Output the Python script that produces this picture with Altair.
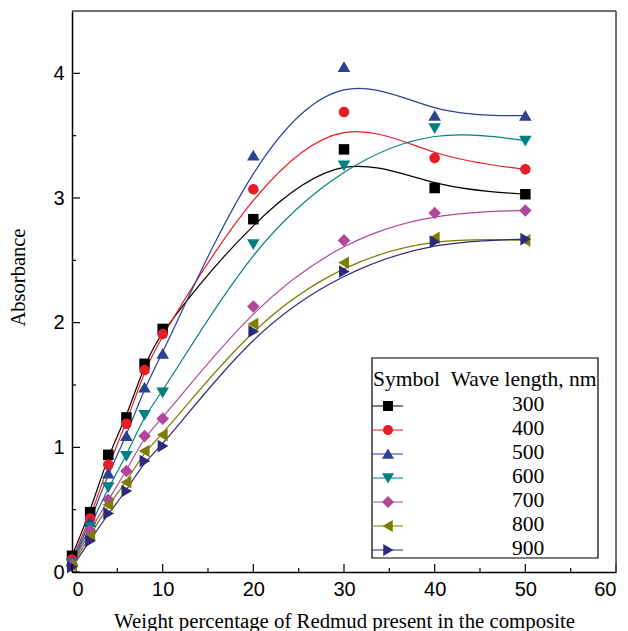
import altair as alt
import pandas as pd

# ---- data ----
x_vals = [0, 2, 4, 6, 8, 10, 20, 30, 40, 50]
wavelengths = ["300", "400", "500", "600", "700", "800", "900"]
abs_300 = [0.13, 0.48, 0.94, 1.24, 1.67, 1.95, 2.83, 3.39, 3.08, 3.03]
abs_400 = [0.10, 0.43, 0.86, 1.19, 1.62, 1.91, 3.07, 3.69, 3.32, 3.23]
abs_500 = [0.08, 0.40, 0.79, 1.09, 1.48, 1.75, 3.34, 4.05, 3.66, 3.66]
abs_600 = [0.07, 0.36, 0.68, 0.93, 1.26, 1.44, 2.63, 3.26, 3.56, 3.46]
abs_700 = [0.06, 0.33, 0.58, 0.81, 1.09, 1.23, 2.13, 2.66, 2.88, 2.90]
abs_800 = [0.05, 0.29, 0.54, 0.72, 0.97, 1.10, 1.99, 2.48, 2.68, 2.66]
abs_900 = [0.04, 0.25, 0.47, 0.65, 0.89, 1.01, 1.93, 2.41, 2.65, 2.67]
series = [abs_300, abs_400, abs_500, abs_600, abs_700, abs_800, abs_900]

x_major = [0, 10, 20, 30, 40, 50, 60]
x_minor = [5, 15, 25, 35, 45, 55]
y_major = [0, 1, 2, 3, 4]
y_minor = [0.5, 1.5, 2.5, 3.5]

legend_title = "Symbol\u00a0\u00a0Wave length, nm"
x_title = "Weight percentage of Redmud present in the composite"
y_title = "Absorbance"

colors = ["#000000", "#E41E26", "#2A4194", "#00807E", "#B0479A", "#7E7D00", "#2D2A7A"]
# marker outlines (unit coordinates)
shapes = [
    "M-1,-1H1V1H-1Z",
    "M-1,0A1,1 0 1,1 1,0A1,1 0 1,1 -1,0Z",
    "M0,-1.1L1.2,0.95H-1.2Z",
    "M-1.2,-0.95H1.2L0,1.1Z",
    "M0,-1.2L1.2,0L0,1.2L-1.2,0Z",
    "M-1.1,0L0.95,-1.2V1.2Z",
    "M-0.95,-1.2L1.1,0L-0.95,1.2Z",
]

rows = []
for wl, vals in zip(wavelengths, series):
    for xv, yv in zip(x_vals, vals):
        rows.append({"x": xv, "y": yv, "wl": wl})
df = pd.DataFrame(rows)
leg_df = pd.DataFrame({"wl": wavelengths})
one = pd.DataFrame({"a": [0]})

W, H = 544, 561
SERIF = "Liberation Serif"
SANS = "Liberation Sans"

xscale = alt.Scale(domain=[0, 60], nice=False)
yscale = alt.Scale(domain=[0, 4.5], nice=False)
color_scale = alt.Scale(domain=wavelengths, range=colors)
shape_scale = alt.Scale(domain=wavelengths, range=shapes)
leg_y = alt.Y("wl:N", scale=alt.Scale(type="point", domain=wavelengths,
                                      range=[395, 539], padding=0), axis=None)

x_axis = alt.Axis(values=x_major, format="d", ticks=False, grid=False,
                  domainColor="black", domainWidth=1.5, labelFont=SANS,
                  labelFontSize=20, labelColor="black", labelPadding=7,
                  title=x_title, titleFont=SERIF, titleFontSize=20.8,
                  titleFontWeight="normal", titleColor="black", titlePadding=12)

lines = alt.Chart(df).mark_line(interpolate="basis", strokeWidth=1.2).encode(
    x=alt.X("x:Q", scale=xscale, axis=x_axis),
    y=alt.Y("y:Q", scale=yscale,
            axis=alt.Axis(values=y_major, format="d", ticks=False, grid=False,
                          domainColor="black", domainWidth=1.5, labelFont=SANS,
                          labelFontSize=20, labelColor="black", labelPadding=8,
                          title=y_title, titleFont=SERIF, titleFontSize=20.5,
                          titleFontWeight="normal", titleColor="black",
                          titleX=-54, titleY=266, titleAngle=270,
                          titleAlign="center", titleBaseline="middle")),
    color=alt.Color("wl:N", scale=color_scale, legend=None),
    detail="wl:N",
)

points = alt.Chart(df).mark_point(filled=True, opacity=1, size=110, strokeWidth=0).encode(
    x=alt.X("x:Q", scale=xscale, axis=x_axis),
    y=alt.Y("y:Q", scale=yscale, axis=None),
    color=alt.Color("wl:N", scale=color_scale, legend=None),
    shape=alt.Shape("wl:N", scale=shape_scale, legend=None),
)


def xticks(vals, length):
    return alt.Chart(pd.DataFrame({"v": vals})).mark_rule(color="black", strokeWidth=1.2).encode(
        x=alt.X("v:Q", scale=xscale, axis=x_axis), y=alt.value(H), y2=alt.value(H - length))


def yticks(vals, length):
    return alt.Chart(pd.DataFrame({"v": vals})).mark_rule(color="black", strokeWidth=1.2).encode(
        y=alt.Y("v:Q", scale=yscale, axis=None), x=alt.value(0), x2=alt.value(length))


# top and right frame lines
frame_top = alt.Chart(one).mark_rule(color="#444444", strokeWidth=1.5).encode(
    x=alt.value(0), x2=alt.value(W), y=alt.value(0))
frame_right = alt.Chart(one).mark_rule(color="#444444", strokeWidth=1.5).encode(
    x=alt.value(W), y=alt.value(0), y2=alt.value(H))

# ---- legend drawn as marks ----
leg_box = alt.Chart(one).mark_rect(
    fill="white", stroke="black", strokeWidth=1.2).encode(
    x=alt.value(300), x2=alt.value(526), y=alt.value(347), y2=alt.value(547))
leg_title = alt.Chart(one).mark_text(
    text=legend_title, align="left", baseline="alphabetic", font=SERIF,
    fontSize=21.5, color="black").encode(x=alt.value(301), y=alt.value(374.5))
leg_lines = alt.Chart(leg_df).mark_rule(strokeWidth=1).encode(
    x=alt.value(300), x2=alt.value(331), y=leg_y,
    color=alt.Color("wl:N", scale=color_scale, legend=None))
leg_pts = alt.Chart(leg_df).mark_point(filled=True, opacity=1, size=100, strokeWidth=0).encode(
    x=alt.value(316), y=leg_y,
    color=alt.Color("wl:N", scale=color_scale, legend=None),
    shape=alt.Shape("wl:N", scale=shape_scale, legend=None))
leg_labels = alt.Chart(leg_df).mark_text(
    align="left", baseline="alphabetic", dy=4.5, font=SERIF, fontSize=21.5,
    color="black").encode(x=alt.value(440), y=leg_y, text="wl:N")

chart = alt.layer(
    lines, points, xticks(x_major, 8), xticks(x_minor, 4), yticks(y_major, 8),
    yticks(y_minor, 4), frame_top, frame_right,
    leg_box, leg_title, leg_lines, leg_pts, leg_labels,
).resolve_scale(color="independent", shape="independent", y="independent").properties(
    width=W, height=H,
    autosize=alt.AutoSizeParams(type="none"),
    padding={"left": 64, "top": 3, "right": 4, "bottom": 59},
).configure_view(stroke="#444444", strokeWidth=1.5).configure(background="white")

chart.save("out.html", embed_options={"renderer": "svg", "actions": False})
